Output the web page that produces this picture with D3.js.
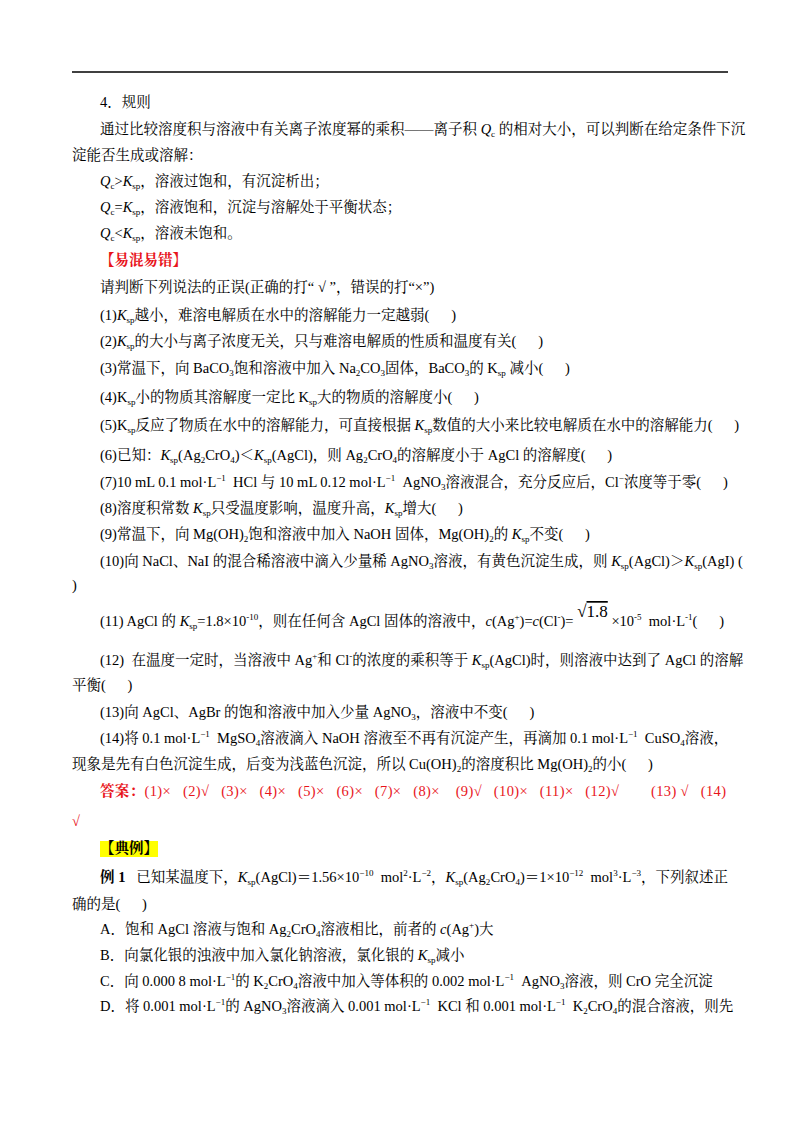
<!DOCTYPE html>
<html><head><meta charset="utf-8">
<script src="https://cdn.jsdelivr.net/npm/d3@7"></script>
<style>body{margin:0;background:#fff}</style>
</head><body><svg id="page" width="800" height="1132"></svg>
<script>
// markup: *italic*  _subscript_  ^superscript^  ~overline~
const lineTexts = [
 "4．规则",
 "通过比较溶度积与溶液中有关离子浓度幂的乘积——离子积 *Q*_c_ 的相对大小，可以判断在给定条件下沉",
 "淀能否生成或溶解：",
 "*Q*_c_>*K*_sp_，溶液过饱和，有沉淀析出；",
 "*Q*_c_=*K*_sp_，溶液饱和，沉淀与溶解处于平衡状态；",
 "*Q*_c_<*K*_sp_，溶液未饱和。",
 "【易混易错】",
 "请判断下列说法的正误(正确的打“ √ ”，错误的打“×”)",
 "(1)*K*_sp_越小，难溶电解质在水中的溶解能力一定越弱(      )",
 "(2)*K*_sp_的大小与离子浓度无关，只与难溶电解质的性质和温度有关(      )",
 "(3)常温下，向 BaCO_3_饱和溶液中加入 Na_2_CO_3_固体，BaCO_3_的 K_sp_ 减小(      )",
 "(4)K_sp_小的物质其溶解度一定比 K_sp_大的物质的溶解度小(      )",
 "(5)K_sp_反应了物质在水中的溶解能力，可直接根据 *K*_sp_数值的大小来比较电解质在水中的溶解能力(      )",
 "(6)已知：*K*_sp_(Ag_2_CrO_4_)＜*K*_sp_(AgCl)，则 Ag_2_CrO_4_的溶解度小于 AgCl 的溶解度(      )",
 "(7)10 mL 0.1 mol·L^−1^  HCl 与 10 mL 0.12 mol·L^−1^  AgNO_3_溶液混合，充分反应后，Cl^−^浓度等于零(      )",
 "(8)溶度积常数 *K*_sp_只受温度影响，温度升高，*K*_sp_增大(      )",
 "(9)常温下，向 Mg(OH)_2_饱和溶液中加入 NaOH 固体，Mg(OH)_2_的 *K*_sp_不变(      )",
 "(10)向 NaCl、NaI 的混合稀溶液中滴入少量稀 AgNO_3_溶液，有黄色沉淀生成，则 *K*_sp_(AgCl)＞*K*_sp_(AgI) (",
 ")",
 "(11) AgCl 的 *K*_sp_=1.8×10^-10^，则在任何含 AgCl 固体的溶液中，*c*(Ag^+^)=*c*(Cl^-^)= ^√~1.8~^ ×10^-5^  mol·L^-1^(      )",
 "(12)  在温度一定时，当溶液中 Ag^+^和 Cl^-^的浓度的乘积等于 *K*_sp_(AgCl)时，则溶液中达到了 AgCl 的溶解",
 "平衡(      )",
 "(13)向 AgCl、AgBr 的饱和溶液中加入少量 AgNO_3_，溶液中不变(      )",
 "(14)将 0.1 mol·L^−1^  MgSO_4_溶液滴入 NaOH 溶液至不再有沉淀产生，再滴加 0.1 mol·L^−1^  CuSO_4_溶液，",
 "现象是先有白色沉淀生成，后变为浅蓝色沉淀，所以 Cu(OH)_2_的溶度积比 Mg(OH)_2_的小(      )",
 "答案：(1)×   (2)√   (3)×   (4)×   (5)×   (6)×   (7)×   (8)×    (9)√   (10)×   (11)×   (12)√        (13) √   (14)",
 "√",
 "【典例】",
 "例 1   已知某温度下，*K*_sp_(AgCl)＝1.56×10^−10^  mol^2^·L^−2^，*K*_sp_(Ag_2_CrO_4_)＝1×10^−12^  mol^3^·L^−3^，下列叙述正",
 "确的是(      )",
 "A．饱和 AgCl 溶液与饱和 Ag_2_CrO_4_溶液相比，前者的 *c*(Ag^+^)大",
 "B．向氯化银的浊液中加入氯化钠溶液，氯化银的 *K*_sp_减小",
 "C．向 0.000 8 mol·L^−1^的 K_2_CrO_4_溶液中加入等体积的 0.002 mol·L^−1^  AgNO_3_溶液，则 CrO 完全沉淀",
 "D．将 0.001 mol·L^−1^的 AgNO_3_溶液滴入 0.001 mol·L^−1^  KCl 和 0.001 mol·L^−1^  K_2_CrO_4_的混合溶液，则先"
];
const lineY = [107,134,160,186,212,238,265,292,320,346,373,402,430,460,487,513,539,566,590,626,665,690,717,743,769,796,826,853,882,909,934,960,986,1011];
const lineIndent = [1,1,0,1,1,1,1,1,1,1,1,1,1,1,1,1,1,1,0,1,1,0,1,1,0,1,0,1,1,0,1,1,1,1];
const justified = [1,17,20,23,25,28,33];
const lineStyle = {6:"redbold",25:"red",26:"red",27:"hl"};

const svg = d3.select("#page");
const xL = 72, xR = 728;
const xs = d3.scaleLinear().domain([0,1]).range([xL,xL+28]);
svg.append("line").attr("x1",xL).attr("x2",xR).attr("y1",72).attr("y2",72).attr("stroke","#000").attr("stroke-width",1.3);

function parse(s){
  const parts = s.split(/(\*[^*]+\*|_[^_]+_|\^[^^]+\^)/).filter(p=>p.length);
  return parts.map(p=>{
    if(p[0]==="*") return {t:p.slice(1,-1),k:"i"};
    if(p[0]==="_") return {t:p.slice(1,-1),k:"sub"};
    if(p[0]==="^") return {t:p.slice(1,-1),k:"sup"};
    return {t:p,k:"n"};
  });
}
lineTexts.forEach((s,i)=>{
  s = s.replace(/ {2,}/g, m=>"\u00a0".repeat(m.length));
  const st = lineStyle[i];
  const x = xs(lineIndent[i]);
  const t = svg.append("text").attr("x",x).attr("y",lineY[i])
    .attr("font-family","'Liberation Serif','Noto Serif CJK SC','Noto Sans CJK SC',serif")
    .attr("font-size",14.5)
    .attr("fill", st==="red"||st==="redbold" ? "#e8141b" : "#000")
    .attr("font-weight", st==="redbold"||st==="hl" ? "bold" : null);
  if(i===25){ t.append("tspan").attr("font-weight","bold").text("答案："); s = s.slice(3); }
  if(s.startsWith("例 1")){ t.append("tspan").attr("font-weight","bold").text("例 1"); s = s.slice(3); }
  parse(s).forEach(p=>{
    if(p.k==="sup" && p.t.includes("~")){
      const m = p.t.split("~");
      t.append("tspan").attr("font-size",17).attr("baseline-shift",9).text(m[0]);
      t.append("tspan").attr("font-size",17).attr("baseline-shift",9).attr("text-decoration","overline").text(m[1]);
      return;
    }
    const ts = t.append("tspan").text(p.t);
    if(p.k==="i") ts.attr("font-style","italic");
    if(p.k==="sub") ts.attr("font-size",9).attr("baseline-shift",-3);
    if(p.k==="sup") ts.attr("font-size",9).attr("baseline-shift",6);
  });
  if(justified.includes(i)){
    const w = t.node().getComputedTextLength();
    const target = (i===25 ? 726 : xR) - x;
    if(w < target) t.attr("textLength", target).attr("lengthAdjust","spacing");
  }
  if(st==="hl"){
    const b = t.node().getBBox();
    svg.insert("rect","text").attr("x",b.x).attr("y",b.y+1).attr("width",b.width).attr("height",b.height-1).attr("fill","#ffff00");
  }
});
</script></body></html>
